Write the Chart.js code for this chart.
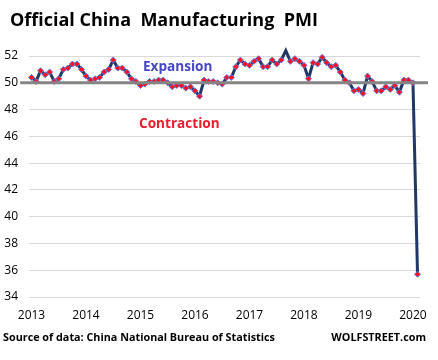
<!DOCTYPE html>
<html>
<head>
<meta charset="utf-8">
<script src="https://cdn.jsdelivr.net/npm/chart.js@4"></script>
<style>
  html, body { margin: 0; padding: 0; background: #fff; }
  #wrap { position: relative; width: 438px; height: 360px; font-family: "Open Sans", "Noto Sans", sans-serif; }
  canvas { position: absolute; left: 0; top: 0; }
  .txt { position: absolute; font-weight: bold; white-space: pre; }
  #title { left: 10px; top: 7px; font-size: 18px; color: #000; }
  #expansion { left: 143px; top: 56px; font-size: 13.6px; color: #4646c8; }
  #contraction { left: 139px; top: 113px; font-size: 13.6px; color: #ea1c2d; }
  #source { left: 3px; top: 329px; font-size: 10.8px; color: #000; }
  #brand { right: 12px; top: 329px; font-size: 10.8px; color: #000; }
</style>
</head>
<body>
<div id="wrap">
  <canvas id="pmiChart" width="438" height="360"></canvas>
  <div class="txt" id="title">Official China  Manufacturing  PMI</div>
  <div class="txt" id="expansion">Expansion</div>
  <div class="txt" id="contraction">Contraction</div>
  <div class="txt" id="source">Source of data: China National Bureau of Statistics</div>
  <div class="txt" id="brand">WOLFSTREET.com</div>
</div>
<script>
  // monthly official manufacturing PMI, Jan 2013 .. Feb 2020
  const years = ['2013', '2014', '2015', '2016', '2017', '2018', '2019', '2020'];
  const pmi2013 = [50.4, 50.1, 50.9, 50.6, 50.8, 50.1, 50.3, 51.0, 51.1, 51.4, 51.4, 51.0];
  const pmi2014 = [50.5, 50.2, 50.3, 50.4, 50.8, 51.0, 51.7, 51.1, 51.1, 50.8, 50.3, 50.1];
  const pmi2015 = [49.8, 49.9, 50.1, 50.1, 50.2, 50.2, 50.0, 49.7, 49.8, 49.8, 49.6, 49.7];
  const pmi2016 = [49.4, 49.0, 50.2, 50.1, 50.1, 50.0, 49.9, 50.4, 50.4, 51.2, 51.7, 51.4];
  const pmi2017 = [51.3, 51.6, 51.8, 51.2, 51.2, 51.7, 51.4, 51.7, 52.4, 51.6, 51.8, 51.6];
  const pmi2018 = [51.3, 50.3, 51.5, 51.4, 51.9, 51.5, 51.2, 51.3, 50.8, 50.2, 50.0, 49.4];
  const pmi2019 = [49.5, 49.2, 50.5, 50.1, 49.4, 49.4, 49.7, 49.5, 49.8, 49.3, 50.2, 50.2];
  const pmi2020 = [50.0, 35.7];
  const yTicks = [34, 36, 38, 40, 42, 44, 46, 48, 50, 52];
  const threshold = 50;

  const pmi = [].concat(pmi2013, pmi2014, pmi2015, pmi2016, pmi2017, pmi2018, pmi2019, pmi2020);
  const points = pmi.map((v, i) => ({ x: i, y: v }));
  const lastIdx = pmi.length - 1;

  const ctx = document.getElementById('pmiChart');

  new Chart(ctx, {
    type: 'line',
    data: {
      datasets: [
        {
          label: 'threshold',
          data: [{ x: -2.5, y: threshold }, { x: lastIdx + 2.3, y: threshold }],
          borderColor: '#858585',
          borderWidth: 3,
          pointRadius: 0,
          clip: false,
          order: 0,
        },
        {
          label: 'PMI',
          data: points,
          borderColor: '#1f3864',
          borderWidth: 3,
          pointStyle: 'rectRot',
          pointRadius: 3,
          pointBackgroundColor: '#ff1020',
          pointBorderColor: '#6a78d8',
          pointBorderWidth: 1,
          tension: 0,
          clip: false,
          order: 1,
        },
      ],
    },
    options: {
      responsive: false,
      animation: false,
      layout: { padding: { left: 0, right: 16, top: 56, bottom: 33 } },
      plugins: { legend: { display: false }, tooltip: { enabled: false } },
      scales: {
        x: {
          type: 'linear',
          min: -0.55,
          max: lastIdx + 0.6,
          grid: { display: false, drawTicks: false },
          border: { display: false },
          afterBuildTicks(scale) {
            scale.ticks = years.map((y, i) => ({ value: i * 12 }));
          },
          afterFit(scale) { scale.height = 30; },
          ticks: {
            padding: 11,
            autoSkip: false,
            maxRotation: 0,
            color: '#000',
            font: { family: '"Open Sans", sans-serif', size: 12 },
            callback(value) { return years[Math.round(value / 12)]; },
          },
        },
        y: {
          min: 34,
          max: 52,
          grid: { color: '#d9d9d9', lineWidth: 1, drawTicks: false },
          border: { display: false },
          afterBuildTicks(scale) {
            scale.ticks = yTicks.map(v => ({ value: v }));
          },
          afterFit(scale) { scale.width = 29; },
          ticks: {
            padding: 11,
            color: '#000',
            font: { family: '"Open Sans", sans-serif', size: 12 },
          },
        },
      },
    },
  });
</script>
</body>
</html>
